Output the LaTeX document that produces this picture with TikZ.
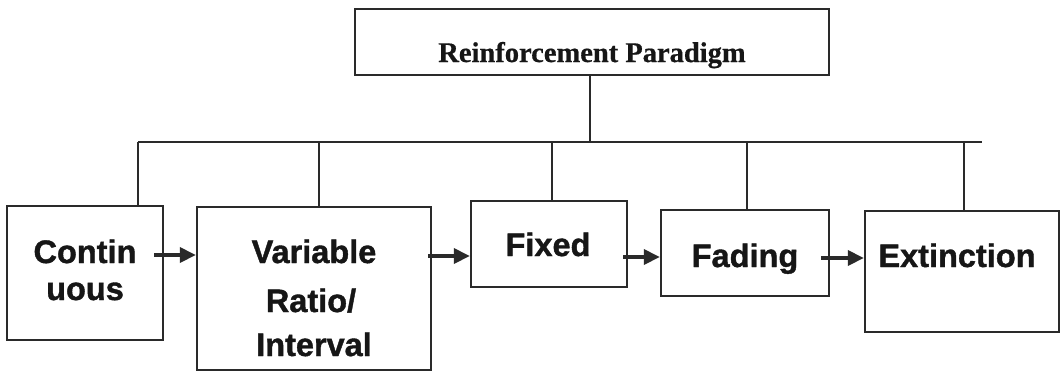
\documentclass[tikz,border=0pt]{standalone}
\usepackage{fontspec}
\setmainfont{Liberation Serif}[BoldFeatures={FakeBold=0.6}]
\setsansfont{Liberation Sans}[BoldFeatures={FakeBold=1.2}]
\usetikzlibrary{arrows.meta}
\definecolor{ink}{HTML}{2A2A2A}
\definecolor{txt}{HTML}{161616}
\begin{document}
\begin{tikzpicture}[x=1pt,y=-1pt,
  box/.style={draw=ink, line width=2.3pt, rectangle, inner sep=0pt},
  link/.style={draw=ink, line width=2.1pt},
  flow/.style={draw=ink, line width=3.4pt, -{Triangle[length=16pt,width=15pt]}},
  lbl/.style={font=\sffamily\bfseries\fontsize{32.5}{36}\selectfont, text=txt, anchor=base, inner sep=0pt},
  toplbl/.style={font=\rmfamily\bfseries\fontsize{28.5}{32}\selectfont, text=txt, anchor=base, inner sep=0pt},
]
\useasboundingbox (0,0) rectangle (1063,373);

% boxes
\node[box, minimum width=474pt, minimum height=66pt] (top) at (592,42) {};
\node[box, minimum width=156pt, minimum height=134pt] (b1) at (85,273) {};
\node[box, minimum width=234pt, minimum height=163pt] (b2) at (314,288.5) {};
\node[box, minimum width=156pt, minimum height=86pt] (b3) at (549,244) {};
\node[box, minimum width=168pt, minimum height=86pt] (b4) at (745,253) {};
\node[box, minimum width=194pt, minimum height=121pt] (b5) at (962,271.5) {};

% labels
\node[toplbl] (t0) at (592,62) {Reinforcement Paradigm};
\node[lbl] (t1a) at (85,263) {Contin};
\node[lbl] (t1b) at (85,300) {uous};
\node[lbl] (t2a) at (314,263) {Variable};
\node[lbl] (t2b) at (311,312) {Ratio/};
\node[lbl] (t2c) at (314,356) {Interval};
\node[lbl] (t3) at (548,256) {Fixed};
\node[lbl] (t4) at (745,267) {Fading};
\node[lbl] (t5) at (957,267) {Extinction};

% tree connectors
\coordinate (d0) at (590,142);
\coordinate (busL) at (138,142);
\coordinate (busR) at (982,142);
\coordinate (d2) at (319,142);
\coordinate (d3) at (552,142);
\coordinate (d4) at (747,142);
\coordinate (d5) at (964,142);
\draw[link] (d0 |- top.south) -- (d0);
\draw[link] (busL) -- (busR);
\draw[link] (busL) -- (busL |- b1.north);
\draw[link] (d2) -- (d2 |- b2.north);
\draw[link] (d3) -- (d3 |- b3.north);
\draw[link] (d4) -- (d4 |- b4.north);
\draw[link] (d5) -- (d5 |- b5.north);

% sequence arrows
\coordinate (a1) at ([xshift=-10pt,yshift=18pt]b1.east);
\coordinate (a2) at ([xshift=-4pt,yshift=32.5pt]b2.east);
\coordinate (a3) at ([xshift=-5pt,yshift=-13pt]b3.east);
\coordinate (a4) at ([xshift=-9pt,yshift=-5pt]b4.east);
\draw[flow] (a1) -- (a1 -| b2.west);
\draw[flow] (a2) -- (a2 -| b3.west);
\draw[flow] (a3) -- (a3 -| b4.west);
\draw[flow] (a4) -- (a4 -| b5.west);
\end{tikzpicture}
\end{document}
